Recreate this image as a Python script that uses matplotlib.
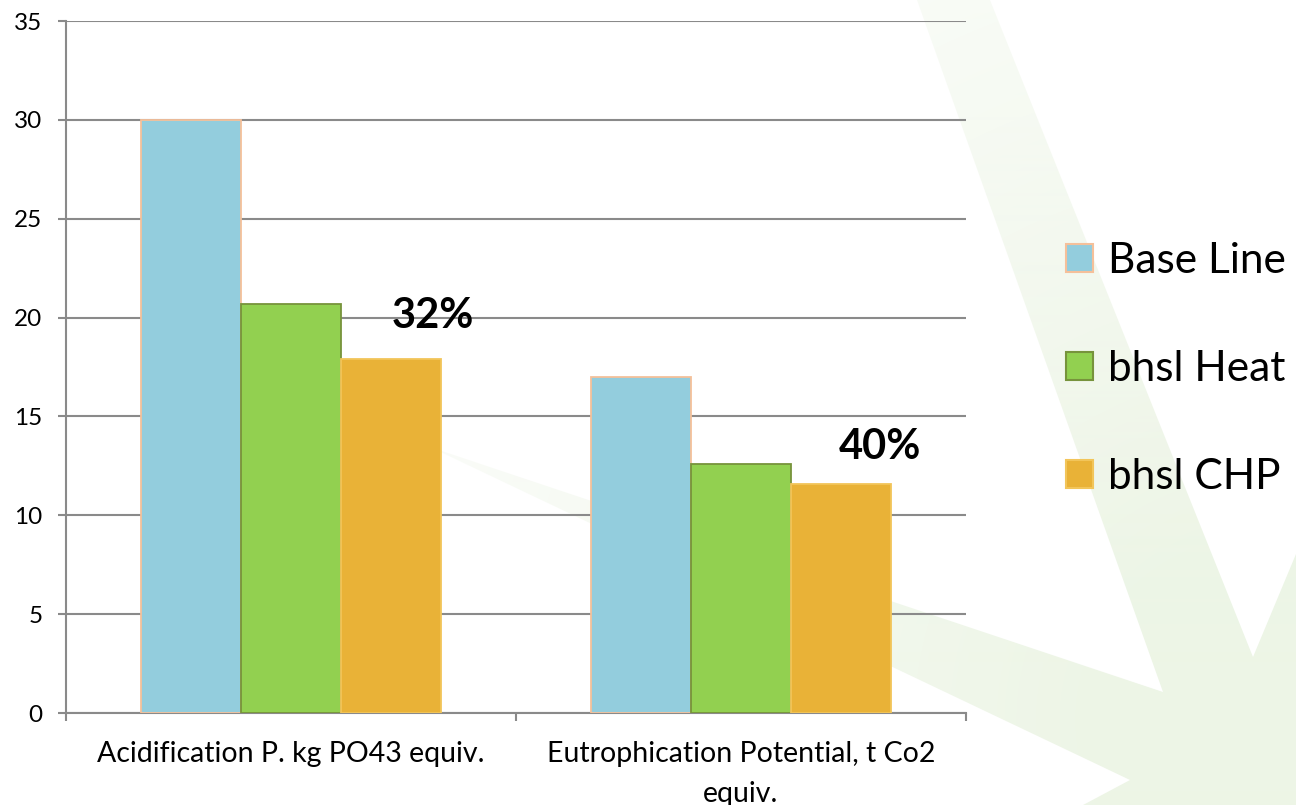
import numpy as np
import matplotlib
matplotlib.use("Agg")
import matplotlib.pyplot as plt
from matplotlib.patches import Polygon, Patch

plt.rcParams['font.family'] = ['Lato', 'DejaVu Sans']

# ---- data ----
categories = ["Acidification P. kg PO43 equiv.",
              "Eutrophication Potential, t Co2\nequiv."]
series_names = ["Base Line", "bhsl Heat", "bhsl CHP"]
base_line = [30.0, 17.0]
bhsl_heat = [20.7, 12.6]
bhsl_chp = [17.9, 11.6]
reduction_labels = ["32%", "40%"]
y_ticks = [0, 5, 10, 15, 20, 25, 30, 35]

fill_colors = ["#93cddd", "#92d050", "#e9b237"]
edge_colors = ["#f5c09a", "#77933c", "#f2c55a"]
grid_color = "#8a8a8a"

W, H = 1296, 805
fig = plt.figure(figsize=(W / 100, H / 100), dpi=100)
fig.patch.set_facecolor("white")

# ---- faint green starburst decoration behind the chart ----
bg = fig.add_axes([0, 0, 1, 1], zorder=-1)
bg.set_xlim(0, W)
bg.set_ylim(H, 0)
bg.axis("off")
yy, xx = np.mgrid[0:H, 0:W]
dist = np.hypot(xx - 1260, yy - 720)
alpha = np.clip(1.15 - dist / 1000.0, 0, 1)
rgba = np.zeros((H, W, 4))
rgba[..., 0] = 0xed / 255
rgba[..., 1] = 0xf5 / 255
rgba[..., 2] = 0xe6 / 255
rgba[..., 3] = alpha
star = Polygon([(917, 0), (990, 0), (1253, 657), (1296, 554), (1296, 805),
                (1083, 805), (1130, 780), (430, 447), (1163, 692)],
               closed=True, facecolor="none", edgecolor="none")
bg.add_patch(star)
im = bg.imshow(rgba, extent=(0, W, H, 0), interpolation="bilinear")
im.set_clip_path(star)

# ---- main chart ----
ax = fig.add_axes([66 / W, 1 - 713 / H, 900 / W, 692 / H])
ax.patch.set_alpha(0)

centers = np.arange(len(categories)) + 0.5
bar_w = 100 / 450
all_series = [base_line, bhsl_heat, bhsl_chp]
for i, vals in enumerate(all_series):
    ax.bar(centers + (i - 1) * bar_w, vals, width=bar_w,
           color=fill_colors[i], edgecolor=edge_colors[i], linewidth=1.3,
           zorder=3)

ax.set_xlim(0, 2)
ax.set_ylim(0, 35)
ax.set_yticks(y_ticks)
ax.set_yticklabels([str(t) for t in y_ticks], fontsize=17.5)
ax.yaxis.grid(True, color=grid_color, linewidth=1.5, zorder=0)
ax.set_axisbelow(True)

ax.set_xticks([0, 1, 2])
ax.set_xticklabels([])
ax.set_xticks(centers, minor=True)
ax.set_xticklabels(categories, minor=True, fontsize=20.5, linespacing=1.66)
ax.tick_params(axis="x", which="minor", length=0, pad=20)
ax.tick_params(axis="x", which="major", length=6, width=1.5, color=grid_color)
ax.tick_params(axis="y", length=6, width=1.5, color=grid_color, pad=11)

for side in ["top", "right"]:
    ax.spines[side].set_visible(False)
for side in ["left", "bottom"]:
    ax.spines[side].set_color(grid_color)
    ax.spines[side].set_linewidth(1.5)

# reduction annotations
ax.text(0.8156, 20.1, reduction_labels[0], fontsize=30, fontweight="bold",
        ha="center", va="center", zorder=4)
ax.text(1.809, 13.45, reduction_labels[1], fontsize=30, fontweight="bold",
        ha="center", va="center", zorder=4)

# legend
handles = [Patch(facecolor=fill_colors[i], edgecolor=edge_colors[i],
                 linewidth=1.5) for i in range(3)]
fig.legend(handles, series_names, loc="center left",
           bbox_to_anchor=(1066 / W, 1 - 369 / H), frameon=False,
           fontsize=30.5, labelspacing=1.66, handlelength=0.64,
           handleheight=0.64, handletextpad=0.35, borderpad=0,
           borderaxespad=0)

fig.savefig("out.png", dpi=100)
